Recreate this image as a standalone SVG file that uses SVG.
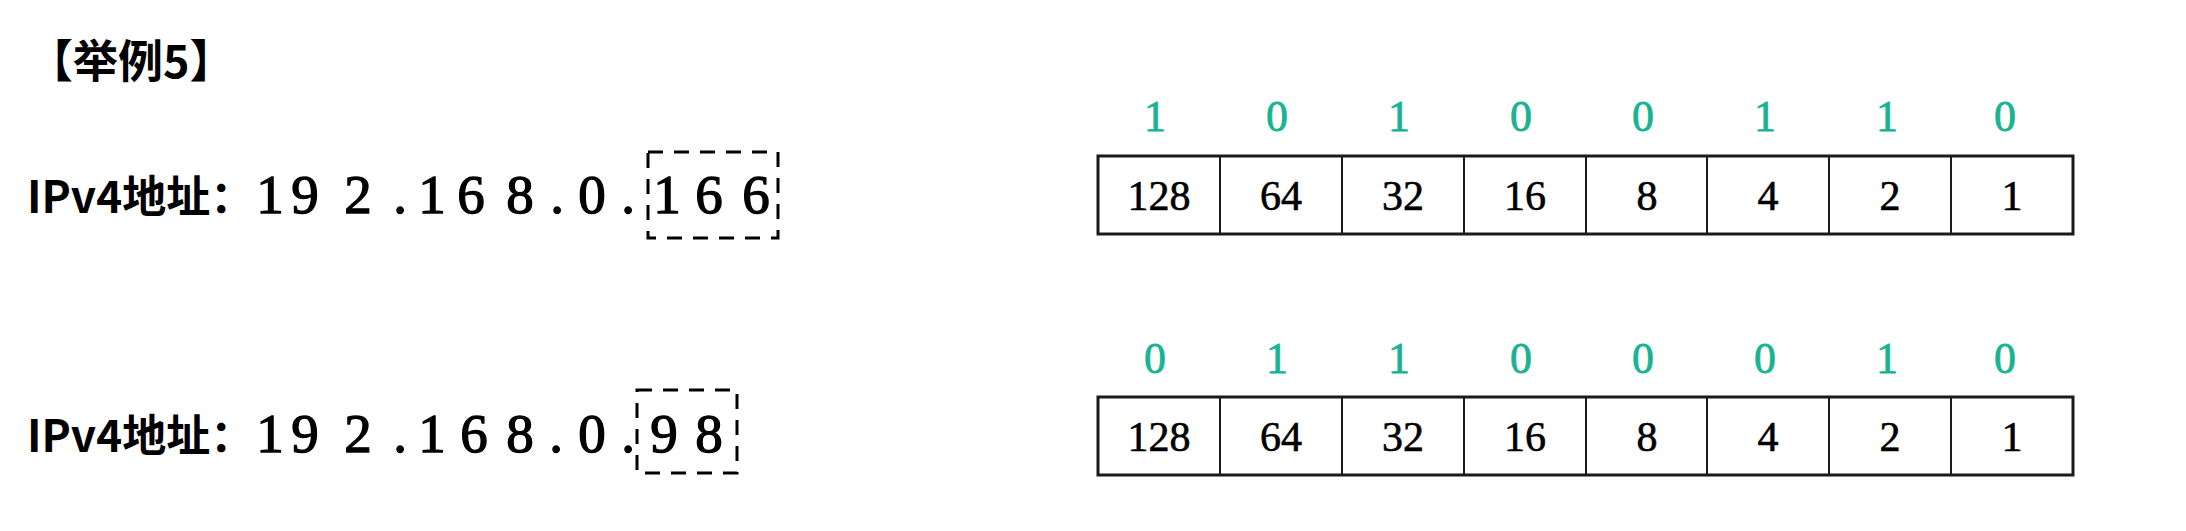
<svg xmlns="http://www.w3.org/2000/svg" width="2186" height="531" viewBox="0 0 2186 531">
<style>
.title{font-family:"Noto Sans CJK SC","Noto Sans",sans-serif;font-weight:bold;font-size:45px;fill:#000}
.lbl{font-family:"Noto Sans CJK SC","Noto Sans",sans-serif;font-weight:bold;font-size:44px;fill:#000}
.ip{font-family:"Liberation Serif",serif;font-size:55px;fill:#000;stroke:#000;stroke-width:1.3;text-anchor:middle}
.num{font-family:"Liberation Serif",serif;font-size:42px;fill:#000;stroke:#000;stroke-width:0.6;text-anchor:middle}
.bit{font-family:"Liberation Serif",serif;font-size:44px;fill:#19b394;stroke:#19b394;stroke-width:0.8;text-anchor:middle}
.dash{fill:none;stroke:#000;stroke-width:3;stroke-dasharray:15 11}
.tbl{fill:#fff;stroke:#1a1a1a;stroke-width:3}
.cell{stroke:#1a1a1a;stroke-width:2}
</style>
<rect width="2186" height="531" fill="#fff"/>
<g id="title"><text class="title" x="28" y="78">【举例5】</text></g>

<g id="ip1">
<text class="lbl" x="27" y="213">IPv4地址：</text>
<text class="ip" x="270 305 358 400 432 471 520 557 592 628" y="213">192.168.0.</text>
<text class="ip" x="667 709 756" y="213">166</text>
<rect class="dash" x="648" y="152" width="130" height="86"/>
</g>

<g id="table1">
<rect class="tbl" x="1098" y="156" width="975" height="78"/>
<g class="cell">
<line x1="1220" y1="156" x2="1220" y2="234"/><line x1="1342" y1="156" x2="1342" y2="234"/>
<line x1="1464" y1="156" x2="1464" y2="234"/><line x1="1586" y1="156" x2="1586" y2="234"/>
<line x1="1707" y1="156" x2="1707" y2="234"/><line x1="1829" y1="156" x2="1829" y2="234"/>
<line x1="1951" y1="156" x2="1951" y2="234"/>
</g>
<text class="num" x="1159" y="210">128</text><text class="num" x="1281" y="210">64</text>
<text class="num" x="1403" y="210">32</text><text class="num" x="1525" y="210">16</text>
<text class="num" x="1647" y="210">8</text><text class="num" x="1768" y="210">4</text>
<text class="num" x="1890" y="210">2</text><text class="num" x="2012" y="210">1</text>
<text class="bit" x="1155" y="131">1</text><text class="bit" x="1277" y="131">0</text>
<text class="bit" x="1399" y="131">1</text><text class="bit" x="1521" y="131">0</text>
<text class="bit" x="1643" y="131">0</text><text class="bit" x="1765" y="131">1</text>
<text class="bit" x="1887" y="131">1</text><text class="bit" x="2005" y="131">0</text>
</g>

<g id="ip2">
<text class="lbl" x="27" y="452">IPv4地址：</text>
<text class="ip" x="270 305 358 400 432 474 520 556 592 628" y="452">192.168.0.</text>
<text class="ip" x="664 709" y="452">98</text>
<rect class="dash" x="637" y="390" width="100" height="83"/>
</g>

<g id="table2">
<rect class="tbl" x="1098" y="397" width="975" height="78"/>
<g class="cell">
<line x1="1220" y1="397" x2="1220" y2="475"/><line x1="1342" y1="397" x2="1342" y2="475"/>
<line x1="1464" y1="397" x2="1464" y2="475"/><line x1="1586" y1="397" x2="1586" y2="475"/>
<line x1="1707" y1="397" x2="1707" y2="475"/><line x1="1829" y1="397" x2="1829" y2="475"/>
<line x1="1951" y1="397" x2="1951" y2="475"/>
</g>
<text class="num" x="1159" y="451">128</text><text class="num" x="1281" y="451">64</text>
<text class="num" x="1403" y="451">32</text><text class="num" x="1525" y="451">16</text>
<text class="num" x="1647" y="451">8</text><text class="num" x="1768" y="451">4</text>
<text class="num" x="1890" y="451">2</text><text class="num" x="2012" y="451">1</text>
<text class="bit" x="1155" y="373">0</text><text class="bit" x="1277" y="373">1</text>
<text class="bit" x="1399" y="373">1</text><text class="bit" x="1521" y="373">0</text>
<text class="bit" x="1643" y="373">0</text><text class="bit" x="1765" y="373">0</text>
<text class="bit" x="1887" y="373">1</text><text class="bit" x="2005" y="373">0</text>
</g>
</svg>
